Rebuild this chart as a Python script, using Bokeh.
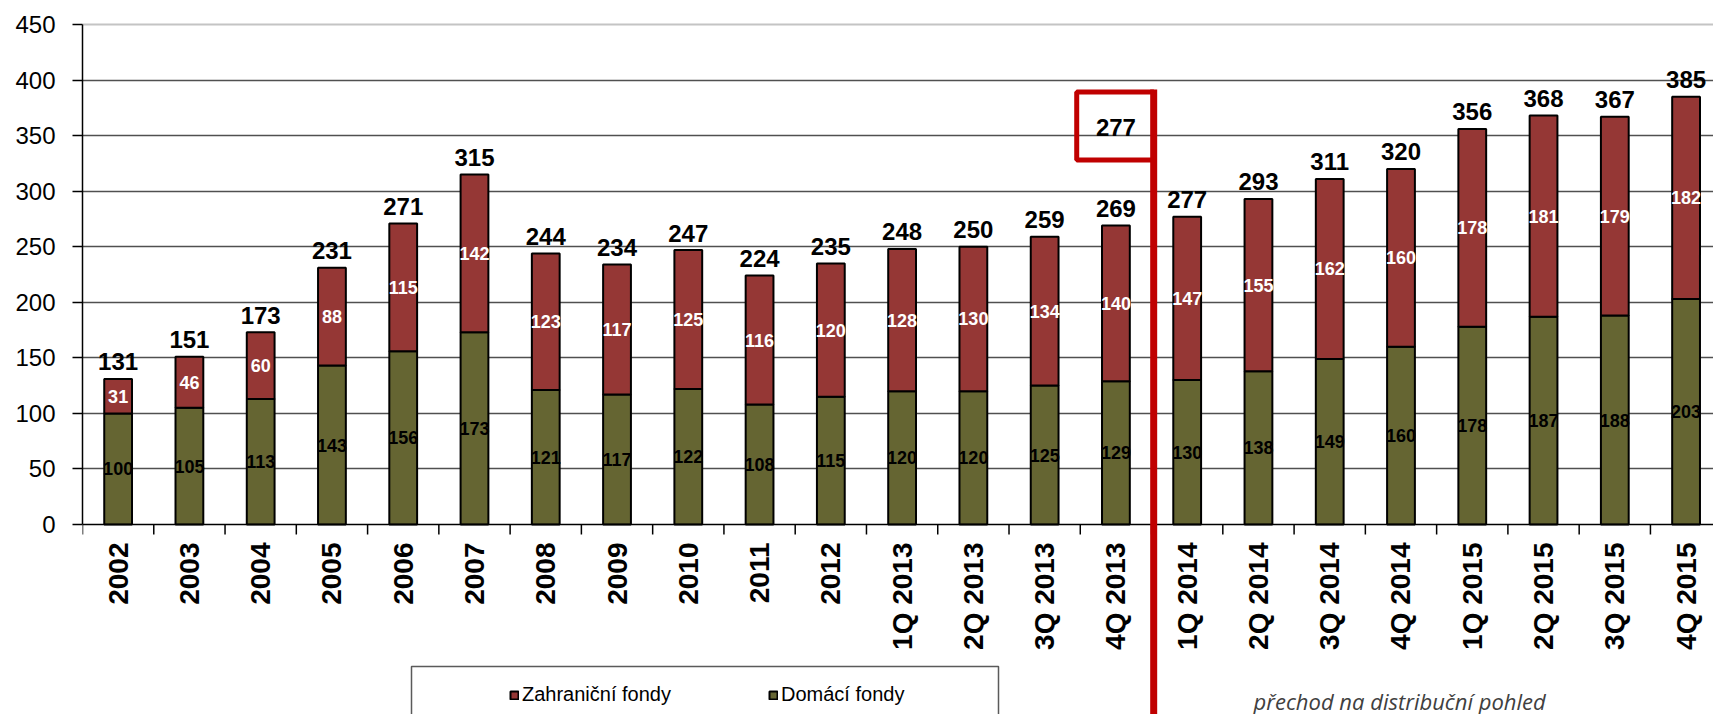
import math
from bokeh.plotting import figure
from bokeh.models import (Range1d, FixedTicker, Grid, Legend, LegendItem,
                          ColumnDataSource, Label)
from bokeh.core.properties import value
from bokeh.embed import file_html
from bokeh.resources import INLINE

# ---------------- data ----------------
categories = ["2002", "2003", "2004", "2005", "2006", "2007", "2008", "2009",
              "2010", "2011", "2012", "1Q 2013", "2Q 2013", "3Q 2013", "4Q 2013",
              "1Q 2014", "2Q 2014", "3Q 2014", "4Q 2014",
              "1Q 2015", "2Q 2015", "3Q 2015", "4Q 2015"]
domestic = [100, 105, 113, 143, 156, 173, 121, 117, 122, 108, 115,
            120, 120, 125, 129, 130, 138, 149, 160, 178, 187, 188, 203]
foreign = [31, 46, 60, 88, 115, 142, 123, 117, 125, 116, 120,
           128, 130, 134, 140, 147, 155, 162, 160, 178, 181, 179, 182]
totals = [131, 151, 173, 231, 271, 315, 244, 234, 247, 224, 235,
          248, 250, 259, 269, 277, 293, 311, 320, 356, 368, 367, 385]
series_names = ["Zahraniční fondy", "Domácí fondy"]
y_ticks = [0, 50, 100, 150, 200, 250, 300, 350, 400, 450]
note_category = "4Q 2013"
note_value = "277"
note_text = "přechod na distribuční pohled"

# ---------------- style ----------------
RED = "#953735"
GREEN = "#656532"
MARK = "#c00000"
PX = 500.0 / 450.0          # pixels per value unit
CAT_W = 71.27               # pixels per category
FONT_NAME = "Liberation Sans"
FONT = value(FONT_NAME)

n = len(categories)
idx = list(range(n))


def dy(px):
    return px / PX


def dx(px):
    return px / CAT_W


src = ColumnDataSource(dict(
    x=idx, cat=categories, dom=domestic, zahr=foreign, tot=totals,
    dom_mid=[d / 2 for d in domestic],
    zahr_mid=[d + z / 2 for d, z in zip(domestic, foreign)],
    dom_lbl=[str(v) for v in domestic],
    zahr_lbl=[str(v) for v in foreign],
    tot_lbl=[str(v) for v in totals],
    tot_y=[t + dy(17) for t in totals],
))

p = figure(width=1713, height=714,
           x_range=Range1d(-0.5, -0.5 + dx(1631)),
           y_range=Range1d(-dy(190), dy(524)),
           x_axis_location=None, y_axis_location="left",
           toolbar_location=None, tools="", output_backend="svg",
           min_border_left=82, min_border_right=0,
           min_border_top=0, min_border_bottom=0)
p.outline_line_color = None
p.background_fill_color = "white"
p.border_fill_color = "white"

# y axis
ya = p.yaxis[0]
ya.ticker = FixedTicker(ticks=y_ticks)
ya.bounds = (0, 450)
ya.axis_line_color = "black"
ya.axis_line_width = 1.5
ya.major_tick_out = 10
ya.major_tick_in = 0
ya.major_tick_line_color = "black"
ya.major_tick_line_width = 1.5
ya.minor_tick_out = 0
ya.minor_tick_in = 0
ya.major_label_standoff = 17
ya.major_label_text_font = FONT_NAME
ya.major_label_text_font_size = "24px"
ya.major_label_text_color = "black"

# grids
p.xgrid.visible = False
p.ygrid.ticker = FixedTicker(ticks=y_ticks[1:-1])
p.ygrid.grid_line_color = "#505050"
p.ygrid.grid_line_width = 1.5
top_grid = Grid(dimension=1, ticker=FixedTicker(ticks=[y_ticks[-1]]),
                grid_line_color="#c4c4c4", grid_line_width=2)
p.add_layout(top_grid)

# bars
rs = p.vbar_stack(["dom", "zahr"], x="x", width=0.39, source=src,
                  fill_color=[GREEN, RED], line_color="black", line_width=2)
r_dom, r_zahr = rs

# category axis (baseline, boundary ticks, rotated labels)
p.segment(x0=[-0.5], y0=[0], x1=[n - 0.5], y1=[0], line_color="black", line_width=1.5)
bx = [i - 0.5 for i in range(n + 1)]
p.segment(x0=bx, y0=[0] * len(bx), x1=bx, y1=[-dy(10)] * len(bx),
          line_color="black", line_width=1.5)
p.text(x="x", y=-dy(18), text="cat", source=src, angle=math.pi / 2,
       text_align="right", text_baseline="middle",
       text_font=FONT, text_font_style="bold", text_font_size="28px",
       text_color="black")

# segment labels
p.text(x="x", y="dom_mid", text="dom_lbl", source=src, text_align="center",
       text_baseline="middle", text_font=FONT, text_font_style="bold",
       text_font_size="18px", text_color="black")
p.text(x="x", y="zahr_mid", text="zahr_lbl", source=src, text_align="center",
       text_baseline="middle", text_font=FONT, text_font_style="bold",
       text_font_size="18px", text_color="white")
# totals
p.text(x="x", y="tot_y", text="tot_lbl", source=src, text_align="center",
       text_baseline="middle", text_font=FONT, text_font_style="bold",
       text_font_size="24px", text_color="black")

# red marker box and separator line
ci = categories.index(note_category)
box_top = dy(524 - 91.5)
box_bot = dy(524 - 159.5)
line_x = ci + 0.53
p.quad(left=[ci - 0.55], right=[line_x], top=[box_top], bottom=[box_bot],
       fill_color=None, line_color=MARK, line_width=5)
p.segment(x0=[line_x], y0=[box_top + dy(2.5)], x1=[line_x], y1=[-dy(230)],
          line_color=MARK, line_width=7)
p.text(x=[ci], y=[dy(524 - 127)], text=[note_value], text_align="center",
       text_baseline="middle", text_font=FONT, text_font_style="bold",
       text_font_size="24px", text_color="black")

# legend frame
p.quad(left=[-0.5 + dx(329)], right=[-0.5 + dx(916)], top=[-dy(142)],
       bottom=[-dy(260)], fill_color="white", line_color="#5a5a5a", line_width=1.5)

legend = Legend(items=[LegendItem(label=series_names[0], renderers=[r_zahr]),
                       LegendItem(label=series_names[1], renderers=[r_dom])],
                orientation="horizontal", location=(427, 8),
                glyph_width=10, glyph_height=10, label_standoff=3,
                label_width=246, spacing=0, padding=0, margin=0,
                border_line_color=None, background_fill_alpha=0,
                label_text_font=FONT_NAME, label_text_font_size="20px",
                label_text_color="black")
p.add_layout(legend)

# transition note
p.add_layout(Label(x=ci + 1 - 0.5 + dx(102), y=-dy(176), text=note_text,
                   text_font="Open Sans", text_font_style="italic",
                   text_font_size="22px", text_color="#404040",
                   text_align="left", text_baseline="alphabetic"))

open("out.html", "w").write(file_html(p, INLINE))
